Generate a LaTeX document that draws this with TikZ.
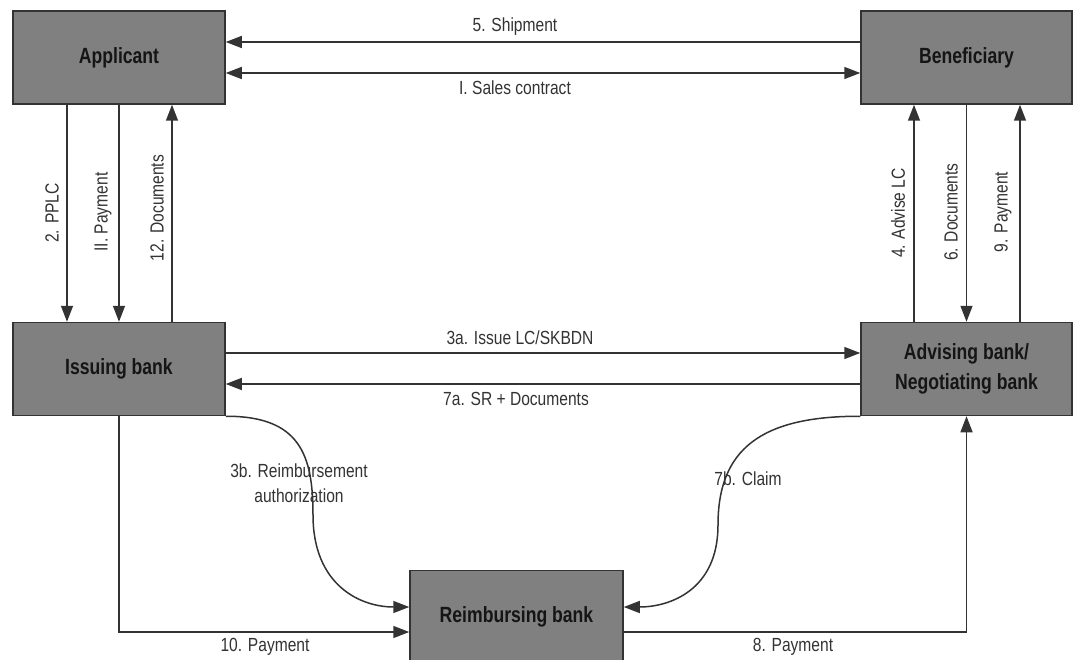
\documentclass[tikz,border=0pt]{standalone}
\usepackage{fontspec}
\newfontfamily\labfont[FakeStretch=0.82]{Liberation Sans}
\newfontfamily\boxfont[FakeStretch=0.8]{Liberation Sans}
\usetikzlibrary{arrows.meta}
\definecolor{boxgray}{HTML}{808080}
\definecolor{linecol}{HTML}{333333}
\definecolor{txtcol}{HTML}{333333}
\definecolor{boxtxt}{HTML}{151515}
\begin{document}
\begin{tikzpicture}[x=1pt,y=-1pt,
  >={Triangle[length=16pt,width=12pt]},
  party/.style={draw=linecol, line width=1.5pt, fill=boxgray, minimum width=212pt,
    minimum height=93pt, inner sep=0pt, align=center,
    font=\boxfont\bfseries\fontsize{22}{30}\selectfont, text=boxtxt},
  conn/.style={draw=linecol, line width=1.5pt, ->},
  lab/.style={font=\labfont\fontsize{19}{25}\selectfont, text=txtcol, inner sep=0pt, align=center},
  vlab/.style={lab, rotate=90}]

\useasboundingbox (0,0) rectangle (1073,660);
\clip (0,0) rectangle (1073,660);
\fill[white] (0,0) rectangle (1073,660);

% parties
\node[party] (app) at (119,57.5) {Applicant};
\node[party, minimum width=211pt] (ben) at (966.5,57.5) {Beneficiary};
\node[party] (iss) at (119,369) {Issuing bank};
\node[party, minimum width=211pt] (adv) at (966.5,369) {Advising bank/\\Negotiating bank};
\node[party, minimum width=213pt] (reim) at (516.5,617) {Reimbursing bank};

% top horizontal
\draw[conn] ([yshift=15.5pt]ben.west) -- ([yshift=15.5pt]app.east);
\draw[conn, <->] ([yshift=-15.5pt]app.east) -- ([yshift=-15.5pt]ben.west);

% left verticals
\draw[conn] ([xshift=-52pt]app.south) -- ([xshift=-52pt]iss.north);
\draw[conn] (app.south) -- (iss.north);
\draw[conn] ([xshift=53pt]iss.north) -- ([xshift=53pt]app.south);

% right verticals
\draw[conn] ([xshift=-52.5pt]adv.north) -- ([xshift=-52.5pt]ben.south);
\draw[conn] (ben.south) -- (adv.north);
\draw[conn] ([xshift=53.5pt]adv.north) -- ([xshift=53.5pt]ben.south);

% middle horizontal
\draw[conn] ([yshift=16pt]iss.east) -- ([yshift=16pt]adv.west);
\draw[conn] ([yshift=-15pt]adv.west) -- ([yshift=-15pt]iss.east);

% curves
\draw[conn] (iss.south east) .. controls (300,416) and (313,455) .. (313,515)
  .. controls (313,585) and (360,607) .. ([yshift=10pt]reim.west);
\draw[conn] (adv.south west) .. controls (760,416) and (718,450) .. (718,525)
  .. controls (718,590) and (670,607) .. ([yshift=10pt]reim.east);

% payments via reimbursing bank
\draw[conn] (iss.south) |- ([yshift=-15pt]reim.west);
\draw[conn] ([yshift=-15pt]reim.east) -| (adv.south);

% labels
\node[lab] (l5) at (515,27) {5. Shipment};
\node[lab] (l1) at (515,88) {I. Sales contract};
\node[lab] (l3a) at (520,338) {3a. Issue LC/SKBDN};
\node[lab] (l7a) at (516,399) {7a. SR + Documents};
\node[lab] (l3b) at (299,483) {3b. Reimbursement\\authorization};
\node[lab] (l7b) at (748,479) {7b. Claim};
\node[lab] (l10) at (265,647) {10. Payment};
\node[lab] (l8) at (793,647) {8. Payment};
\node[vlab] (l2) at (52,213) {2. PPLC};
\node[vlab] (l11) at (103,212) {II. Payment};
\node[vlab] (l12) at (157,208) {12. Documents};
\node[vlab] (l4) at (898,213) {4. Advise LC};
\node[vlab] (l6) at (951,212) {6. Documents};
\node[vlab] (l9) at (1003,212) {9. Payment};
\end{tikzpicture}
\end{document}
